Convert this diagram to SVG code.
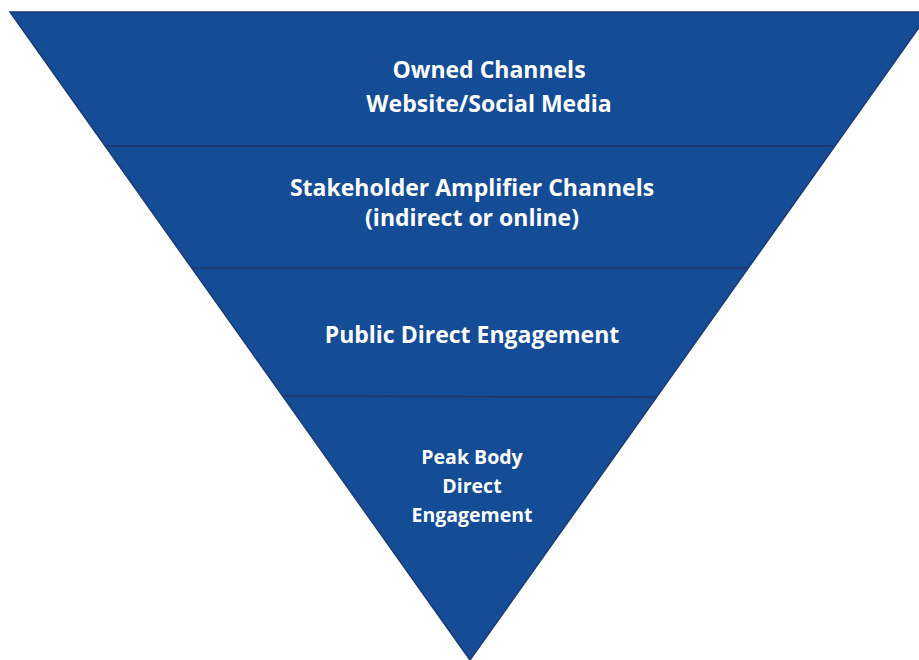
<svg xmlns="http://www.w3.org/2000/svg" width="919" height="660" viewBox="0 0 919 660">
  <style>
    .tier { fill: #144C96; }
    .edge { fill: none; stroke: #1C3B73; stroke-width: 1.5; }
    .divider { stroke: #1F3A6E; stroke-width: 2; }
    .label { font-family: "Open Sans", "Liberation Sans", sans-serif; font-weight: 700; fill: #FFFFFF; text-anchor: middle; }
    .big { font-size: 23px; }
    .small { font-size: 19.5px; }
  </style>
  <defs>
    <clipPath id="funnel">
      <polygon points="10,12 930,12 470,660"/>
    </clipPath>
  </defs>
  <rect x="0" y="0" width="919" height="660" fill="#FFFFFF"/>

  <!-- inverted funnel body -->
  <polygon class="tier" points="10,12 930,12 470,660"/>
  <polygon class="edge" points="10,12 930,12 470,660"/>

  <!-- tier dividers -->
  <g id="dividers" clip-path="url(#funnel)">
    <line class="divider" x1="0" y1="146" x2="919" y2="146"/>
    <line class="divider" x1="0" y1="268" x2="919" y2="268"/>
    <line class="divider" x1="0" y1="395" x2="919" y2="398"/>
  </g>

  <g id="owned-channels">
    <text class="label big" x="489" y="78">Owned Channels</text>
    <text class="label big" x="489" y="112">Website/Social Media</text>
  </g>

  <g id="stakeholder-amplifier">
    <text class="label big" x="472" y="196">Stakeholder Amplifier Channels</text>
    <text class="label big" x="472" y="226">(indirect or online)</text>
  </g>

  <g id="public-direct">
    <text class="label big" x="472" y="343">Public Direct Engagement</text>
  </g>

  <g id="peak-body">
    <text class="label small" x="472" y="464">Peak Body</text>
    <text class="label small" x="472" y="493">Direct</text>
    <text class="label small" x="472" y="522">Engagement</text>
  </g>
</svg>
